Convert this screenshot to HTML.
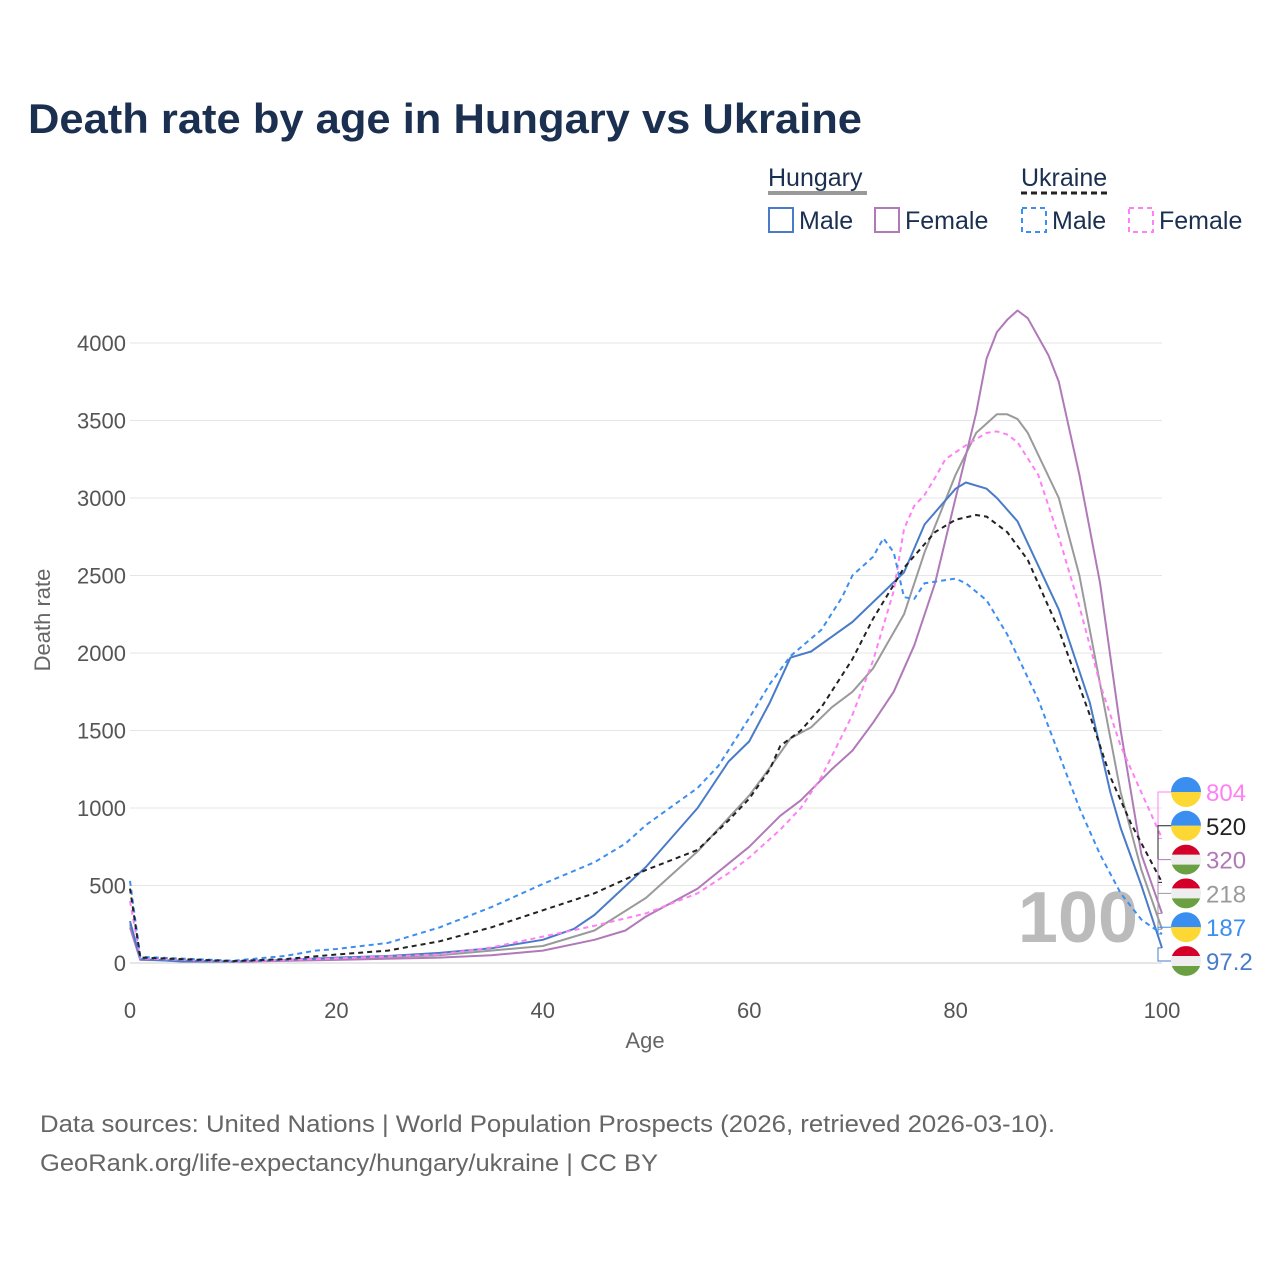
<!DOCTYPE html>
<html><head><meta charset="utf-8"><style>
body{margin:0;background:#fff;font-family:"Liberation Sans",sans-serif;}
svg{display:block}
</style></head><body>
<svg id="chart" width="1280" height="1280" viewBox="0 0 1280 1280">
<rect width="1280" height="1280" fill="#fff"/>
<text x="28" y="133" font-size="42" font-weight="bold" fill="#1b3050" textLength="834" lengthAdjust="spacingAndGlyphs">Death rate by age in Hungary vs Ukraine</text>
<g font-size="25" fill="#1b3050">
<text x="768" y="186">Hungary</text>
<line x1="768" y1="193" x2="867" y2="193" stroke="#999" stroke-width="4"/>
<text x="1021" y="186">Ukraine</text>
<line x1="1021" y1="193" x2="1111" y2="193" stroke="#222" stroke-width="3" stroke-dasharray="6,4"/>
<g><rect x="769" y="208" width="24" height="24" fill="none" stroke="#4a7bc8" stroke-width="2"/><text x="799" y="229">Male</text></g>
<g><rect x="875" y="208" width="24" height="24" fill="none" stroke="#b07ab8" stroke-width="2"/><text x="905" y="229">Female</text></g>
<g><rect x="1022" y="208" width="24" height="24" fill="none" stroke="#3d8ef0" stroke-width="2" stroke-dasharray="5,4"/><text x="1052" y="229">Male</text></g>
<g><rect x="1129" y="208" width="24" height="24" fill="none" stroke="#ff80f4" stroke-width="2" stroke-dasharray="5,4"/><text x="1159" y="229">Female</text></g>
</g>
<g id="grid"></g>
<g id="axes" font-size="22" fill="#555"></g>
<text x="1078" y="942" font-size="72" font-weight="bold" fill="#bbb" text-anchor="middle">100</text>
<g id="series"></g>
<g id="labels"></g>
<text x="645" y="1048" font-size="22" fill="#666" text-anchor="middle">Age</text>
<text transform="translate(50,620) rotate(-90)" font-size="22" fill="#666" text-anchor="middle">Death rate</text>
<text x="40" y="1132" font-size="24" fill="#666" textLength="1015" lengthAdjust="spacingAndGlyphs">Data sources: United Nations | World Population Prospects (2026, retrieved 2026-03-10).</text>
<text x="40" y="1171" font-size="24" fill="#666" textLength="618" lengthAdjust="spacingAndGlyphs">GeoRank.org/life-expectancy/hungary/ukraine | CC BY</text>
</svg>
<script>
const xTicks=[0,20,40,60,80,100];
const yTicks=[0,500,1000,1500,2000,2500,3000,3500,4000];
const huMaleAges=[0,1,5,10,15,20,25,30,35,40,43,45,50,55,58,60,62,64,66,70,75,77,80,81,83,84,86,90,93,95,96,98,100];
const huMale=[270,25,10,10,20,35,45,65,95,150,220,310,620,1000,1300,1430,1680,1970,2010,2200,2520,2830,3060,3100,3060,3000,2850,2280,1680,1100,870,500,97.2];
const huFemaleAges=[0,1,10,20,30,35,40,45,48,50,55,60,63,65,68,70,72,74,76,78,80,82,83,84,85,86,87,89,90,92,94,96,98,100];
const huFemale=[230,20,8,20,35,50,80,150,210,300,480,750,950,1050,1250,1370,1550,1750,2050,2450,3000,3550,3900,4070,4150,4210,4160,3920,3750,3150,2450,1500,700,320];
const huTotalAges=[0,1,10,20,30,40,45,50,55,60,62,64,66,68,70,72,75,77,80,82,84,85,86,87,90,92,94,96,98,100];
const huTotal=[250,22,9,28,50,110,210,420,720,1080,1260,1450,1520,1650,1750,1900,2250,2650,3150,3420,3540,3540,3510,3420,3000,2500,1800,1100,600,218];
const uaTotalAges=[0,1,10,15,20,25,30,35,40,45,50,55,58,60,62,63,65,67,70,72,75,78,80,82,83,85,87,90,93,95,97,100];
const uaTotal=[480,35,12,25,55,80,140,230,340,450,600,730,920,1060,1250,1400,1500,1650,1960,2220,2550,2780,2860,2890,2880,2780,2600,2150,1600,1200,900,520];
const uaMaleAges=[0,1,10,15,18,20,25,30,35,40,45,48,50,55,57,60,62,64,67,69,70,72,73,74,75,76,77,79,80,81,83,85,88,90,92,94,96,98,100];
const uaMale=[530,40,15,45,80,90,130,230,360,510,650,770,890,1130,1270,1580,1800,1980,2150,2360,2500,2620,2740,2650,2360,2350,2450,2470,2480,2450,2340,2120,1700,1350,1000,700,450,280,187];
const uaFemaleAges=[0,1,10,20,30,35,40,45,50,55,58,60,63,65,67,70,72,74,75,76,77,78,79,81,83,84,85,86,88,90,92,94,96,98,100];
const uaFemale=[400,30,10,30,55,100,170,240,320,450,580,680,860,1000,1200,1600,1950,2400,2800,2950,3020,3130,3250,3340,3420,3430,3410,3360,3150,2750,2300,1800,1400,1100,804];
const endLabels=["804","520","320","218","187","97.2"];

const NS="http://www.w3.org/2000/svg";
const X=a=>130+a*10.32;
const Y=v=>963-v*0.155;
function mk(t,attrs,parent){const e=document.createElementNS(NS,t);for(const k in attrs)e.setAttribute(k,attrs[k]);parent.appendChild(e);return e;}
const grid=document.getElementById('grid'),axes=document.getElementById('axes'),ser=document.getElementById('series'),lab=document.getElementById('labels');
yTicks.forEach(v=>{
  const l=mk('line',{x1:130,x2:1162,y1:Y(v),y2:Y(v),stroke:v===0?'#ccc':'#e6e6e6','stroke-width':1},grid);
  
  
  const t=mk('text',{x:126,y:Y(v)+8,'text-anchor':'end'},axes);t.textContent=v;
  
  
});
xTicks.forEach(a=>{
  const t=mk('text',{x:X(a),y:1018,'text-anchor':'middle'},axes);t.textContent=a;
  
  
});
function line(ages,vals,color,dash,name){
  const d=ages.map((a,i)=>(i?'L':'M')+X(a).toFixed(1)+','+Y(vals[i]).toFixed(1)).join(' ');
  const p=mk('path',{d:d,fill:'none',stroke:color,'stroke-width':2,'stroke-linejoin':'round'},ser);
  if(dash)p.setAttribute('stroke-dasharray',dash);
  
  
}
line(huTotalAges,huTotal,'#9a9a9a',null,'hungary-total-line');
line(huFemaleAges,huFemale,'#b07ab8',null,'hungary-female-line');
line(huMaleAges,huMale,'#4a7bc8',null,'hungary-male-line');
line(uaFemaleAges,uaFemale,'#ff80f4','5,4','ukraine-female-line');
line(uaMaleAges,uaMale,'#3d8ef0','5,4','ukraine-male-line');
line(uaTotalAges,uaTotal,'#222','5,4','ukraine-total-line');
const lastVals=[uaFemale[uaFemale.length-1],uaTotal[uaTotal.length-1],huFemale[huFemale.length-1],huTotal[huTotal.length-1],uaMale[uaMale.length-1],huMale[huMale.length-1]];
const colors=['#ff80f4','#222','#b07ab8','#9a9a9a','#3d8ef0','#4a7bc8'];
const flags=['ua','ua','hu','hu','ua','hu'];
endLabels.forEach((s,i)=>{
  const ly=792+i*33.8;
  const yv=Y(lastVals[i]);
  const c=mk('path',{d:`M1162,${yv} L1158,${yv} L1158,${ly} L1172,${ly}`,fill:'none',stroke:colors[i],'stroke-width':1},lab);
  
  
  const g=mk('g',{},lab);
  
  
  const cx=1186,r=15;
  if(flags[i]==='ua'){
    mk('path',{d:`M${cx-r},${ly} A${r},${r} 0 0 1 ${cx+r},${ly} Z`,fill:'#3a8ef0'},g);
    mk('path',{d:`M${cx-r},${ly} A${r},${r} 0 0 0 ${cx+r},${ly} Z`,fill:'#fdd835'},g);
  }else{
    mk('circle',{cx:cx,cy:ly,r:r,fill:'#eee'},g);
    mk('path',{d:`M${cx-r*0.94},${ly-5} A${r},${r} 0 0 1 ${cx+r*0.94},${ly-5} Z`,fill:'#d4002a'},g);
    mk('path',{d:`M${cx-r*0.94},${ly+5} A${r},${r} 0 0 0 ${cx+r*0.94},${ly+5} Z`,fill:'#6aa042'},g);
  }
  const t=mk('text',{x:1206,y:ly+9,'font-size':24,fill:colors[i]},lab);t.textContent=s;
  
  
});
</script>
</body></html>
